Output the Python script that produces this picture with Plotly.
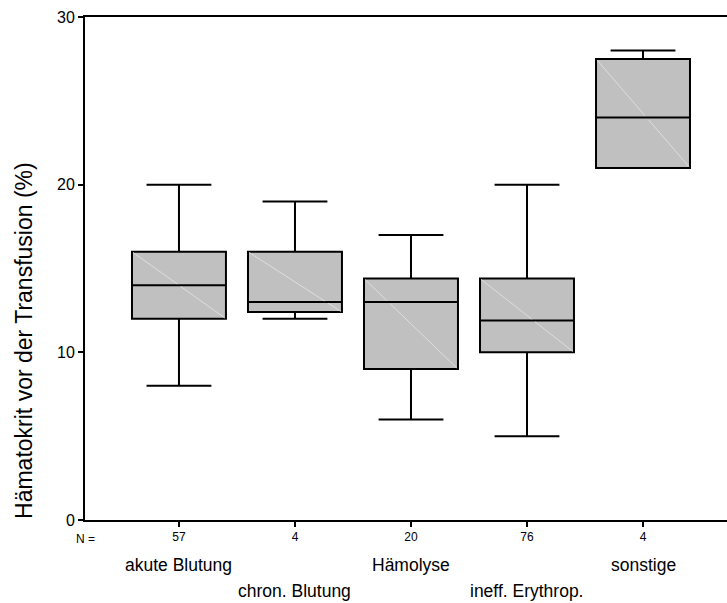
import plotly.graph_objects as go

categories = ["akute Blutung", "chron. Blutung", "Hämolyse", "ineff. Erythrop.", "sonstige"]
n_counts = ["57", "4", "20", "76", "4"]
lower_whisker = [8, 12, 6, 5, 21]
q1 = [12, 12.4, 9, 10, 21]
median = [14, 13, 13, 11.9, 24]
q3 = [16, 16, 14.4, 14.4, 27.5]
upper_whisker = [20, 19, 17, 20, 28]
y_ticks = [0, 10, 20, 30]

FONT = "Liberation Sans, Arial, sans-serif"
xpos = list(range(1, len(categories) + 1))
BOXW = 0.81

fig = go.Figure()
fig.add_trace(go.Box(
    x=xpos, q1=q1, median=median, q3=q3,
    lowerfence=lower_whisker, upperfence=upper_whisker,
    width=BOXW, whiskerwidth=0.69,
    fillcolor="#c0c0c0", line=dict(color="black", width=2),
    boxpoints=False, showlegend=False, hoverinfo="skip",
))

# faint diagonal artefact inside each box (top-left to bottom-right), interrupted at the median
dx, dy = [], []
for x, a, m, b in zip(xpos, q3, median, q1):
    x0, x1 = x - BOXW / 2, x + BOXW / 2
    xm = x0 + (a - m) / (a - b) * BOXW if a != b else x
    g = 0.015
    dx += [x0 + 0.01, xm - g, None, xm + g, x1 - 0.01, None]
    ya = a - (a - b) * 0.01 / BOXW
    yb = b + (a - b) * 0.01 / BOXW
    dy += [ya, m + (a - b) * g / BOXW, None, m - (a - b) * g / BOXW, yb, None]
fig.add_trace(go.Scatter(x=dx, y=dy, mode="lines", line=dict(color="#dedede", width=1),
                         showlegend=False, hoverinfo="skip"))

annotations = []
for i, (x, c) in enumerate(zip(xpos, categories)):
    annotations.append(dict(x=x, y=-0.0895 if i % 2 == 0 else -0.142, xref="x", yref="paper",
                            text=c, showarrow=False, xanchor="center", yanchor="middle",
                            font=dict(family=FONT, size=17.5, color="black")))
annotations.append(dict(x=0, y=-0.0378, xref="paper", yref="paper", text="N =",
                        showarrow=False, xanchor="center", yanchor="middle",
                        font=dict(family=FONT, size=12, color="black")))
annotations.append(dict(x=-0.095, y=0.356, xref="paper", yref="paper",
                        text="Hämatokrit vor der Transfusion (%)", textangle=-90,
                        showarrow=False, xanchor="center", yanchor="middle",
                        font=dict(family=FONT, size=23, color="black")))

fig.update_layout(
    width=727, height=603,
    margin=dict(l=85, r=0, t=17, b=83),
    paper_bgcolor="white", plot_bgcolor="white",
    font=dict(family=FONT, color="black"),
    annotations=annotations,
    xaxis=dict(range=[0.19, 5.724], tickvals=xpos, ticktext=n_counts,
               showgrid=False, zeroline=False, showline=True, linecolor="black", linewidth=2,
               mirror=True, ticks="outside", ticklen=5, tickwidth=1.5, tickcolor="black",
               tickfont=dict(family=FONT, size=12, color="black")),
    yaxis=dict(range=[0, 30], tickvals=y_ticks, showgrid=False, zeroline=False,
               showline=True, linecolor="black", linewidth=2, ticks="outside",
               ticklen=5, tickwidth=1.5, tickcolor="black",
               tickfont=dict(family=FONT, size=16, color="black")),
)
fig.write_html("out.html")
